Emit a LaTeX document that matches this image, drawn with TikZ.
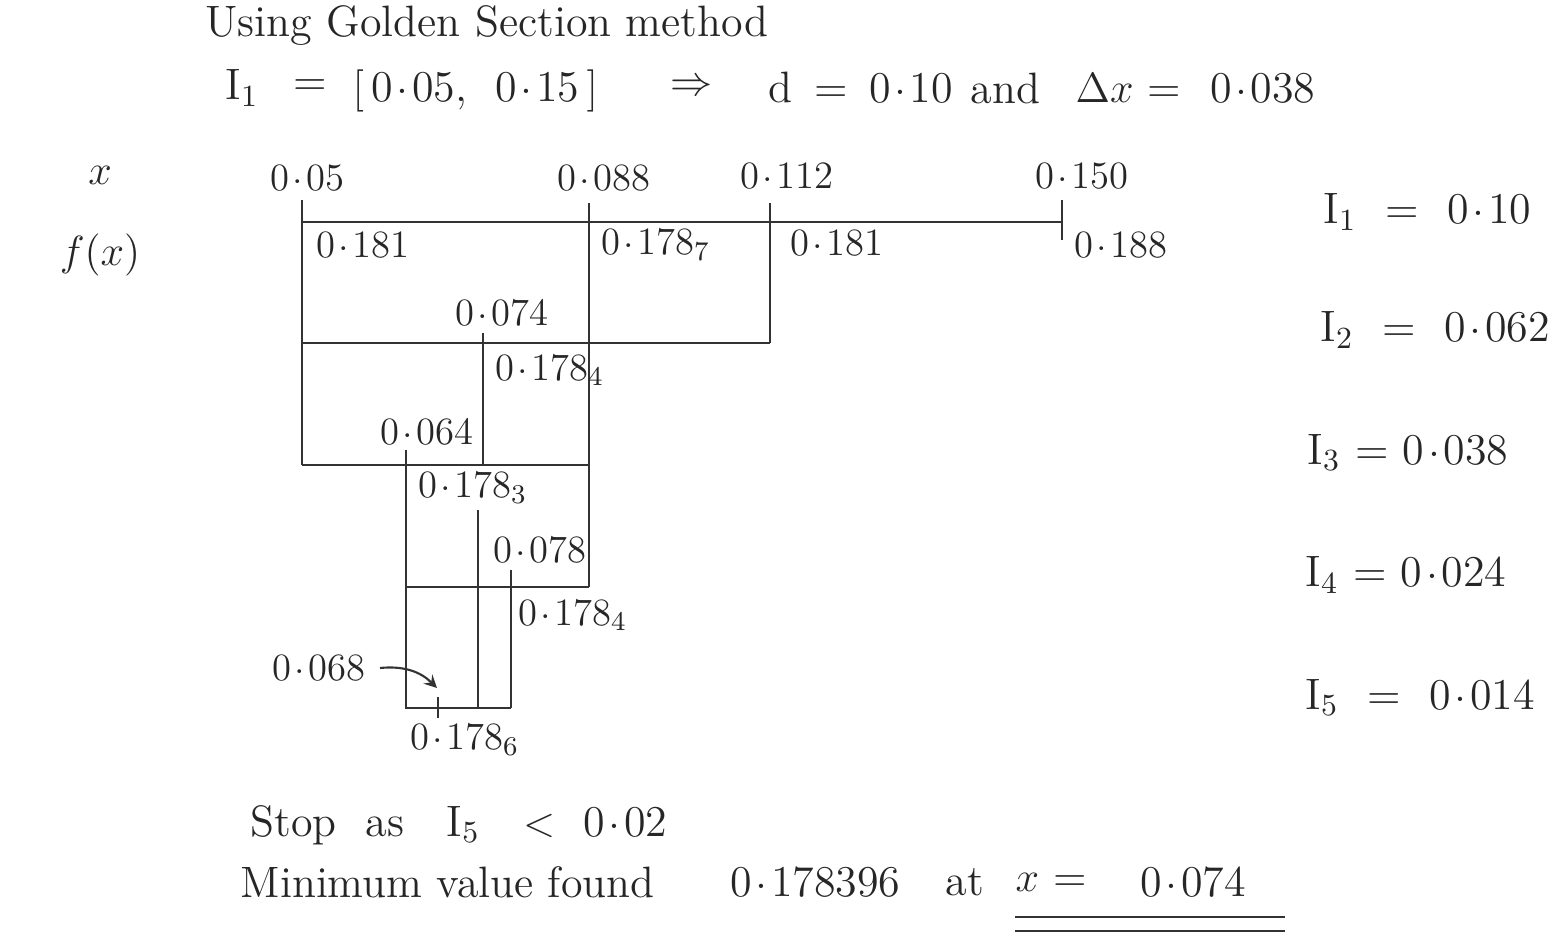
\documentclass[tikz,border=0pt]{standalone}
\usepackage{fontspec}

\newcommand{\dt}{\kern0.08em\raisebox{0.42ex}{.}\kern0.08em}

\begin{document}
\begin{tikzpicture}[x=0.01cm,y=-0.01cm,>=stealth,
    every node/.style={inner sep=0pt, text=black!85},
    big/.style={anchor=west, font=\fontsize{12.5}{15}\selectfont},
    num/.style={anchor=west, font=\fontsize{11}{13}\selectfont},
    grid/.style={line width=0.8pt, black!80}]

    \useasboundingbox (0,0) rectangle (1562,946);

    % heading
    \node[big] (title) at (205,26) {Using Golden Section method};
    \node[big] (given) at (225,88) {I\textsubscript{1}};
    \node[big, anchor=center] (eqa) at (310,88) {=};
    \node[big] (range) at (352,91)
        {$\bigl[$\,0\dt 05,\ \ 0\dt 15\,$\bigr]$};
    \node[big, anchor=center] (implies) at (692,88) {$\Rightarrow$};
    \node[big] (spread) at (768,88) {d \,=\, 0\dt 10};
    \node[big] (andw) at (970,88) {and};
    \node[big] (step) at (1075,88) {$\Delta x$ = \ 0\dt 038};

    % row labels
    \node[big, anchor=center] (xlab) at (100,175) {$x$};
    \node[big, anchor=center] (flab) at (100,255) {$f(x)$};

    % interval lines
    \draw[grid] (302,200) -- (302,465);
    \draw[grid] (302,222) -- (1062,222);
    \draw[grid] (589,203) -- (589,587);
    \draw[grid] (770,203) -- (770,343);
    \draw[grid] (1062,200) -- (1062,240);
    \draw[grid] (302,343) -- (770,343);
    \draw[grid] (483,333) -- (483,465);
    \draw[grid] (302,465) -- (589,465);
    \draw[grid] (406,450) -- (406,708) -- (511,708);
    \draw[grid] (478,510) -- (478,708);
    \draw[grid] (406,587) -- (589,587);
    \draw[grid] (511,570) -- (511,708);
    \draw[grid] (438,697) -- (438,718);

    % x values
    \node[num] (x050) at (270,178) {0\dt 05};
    \node[num] (x088) at (557,178) {0\dt 088};
    \node[num] (x112) at (740,176) {0\dt 112};
    \node[num] (x150) at (1035,176) {0\dt 150};
    \node[num] (x074) at (455,313) {0\dt 074};
    \node[num] (x064) at (380,432) {0\dt 064};
    \node[num] (x078) at (493,550) {0\dt 078};
    \node[num] (x068) at (272,668) {0\dt 068};

    % f(x) values
    \node[num] (f050) at (316,245) {0\dt 181};
    \node[num] (f088) at (601,245) {0\dt 178\textsubscript{7}};
    \node[num] (f112) at (790,243) {0\dt 181};
    \node[num] (f150) at (1074,245) {0\dt 188};
    \node[num] (f074) at (495,370) {0\dt 178\textsubscript{4}};
    \node[num] (f064) at (418,488) {0\dt 178\textsubscript{3}};
    \node[num] (f078) at (518,615) {0\dt 178\textsubscript{4}};
    \node[num] (f068) at (410,740) {0\dt 178\textsubscript{6}};

    \coordinate (p068) at (437,688);
    \draw[->, line width=0.6pt, black!80] ([xshift=4pt]x068.east) to[bend left=25] (p068);

    % interval lengths
    \node[big] (len1) at (1323,212) {I\textsubscript{1} \ = \ 0\dt 10};
    \node[big] (len2) at (1320,330) {I\textsubscript{2} \ = \ 0\dt 062};
    \node[big] (len3) at (1307,453) {I\textsubscript{3} = 0\dt 038};
    \node[big] (len4) at (1305,575) {I\textsubscript{4} = 0\dt 024};
    \node[big] (len5) at (1305,698) {I\textsubscript{5} \ = \ 0\dt 014};

    % conclusion
    \node[big] (stop) at (250,825)
        {Stop \ as \ \ I\textsubscript{5} \ \ $<$ \ 0\dt 02};
    \node[big] (result) at (240,882) {Minimum value found};
    \node[big] (minval) at (730,882) {0\dt 178396};
    \node[big] (atw) at (945,882) {at};
    \node[big] (xeq) at (1015,882) {$x$ =};
    \node[big] (xmin) at (1140,882) {0\dt 074};
    \draw[grid] (1015,917) -- (1285,917);
    \draw[grid] (1015,931) -- (1285,931);

\end{tikzpicture}
\end{document}
